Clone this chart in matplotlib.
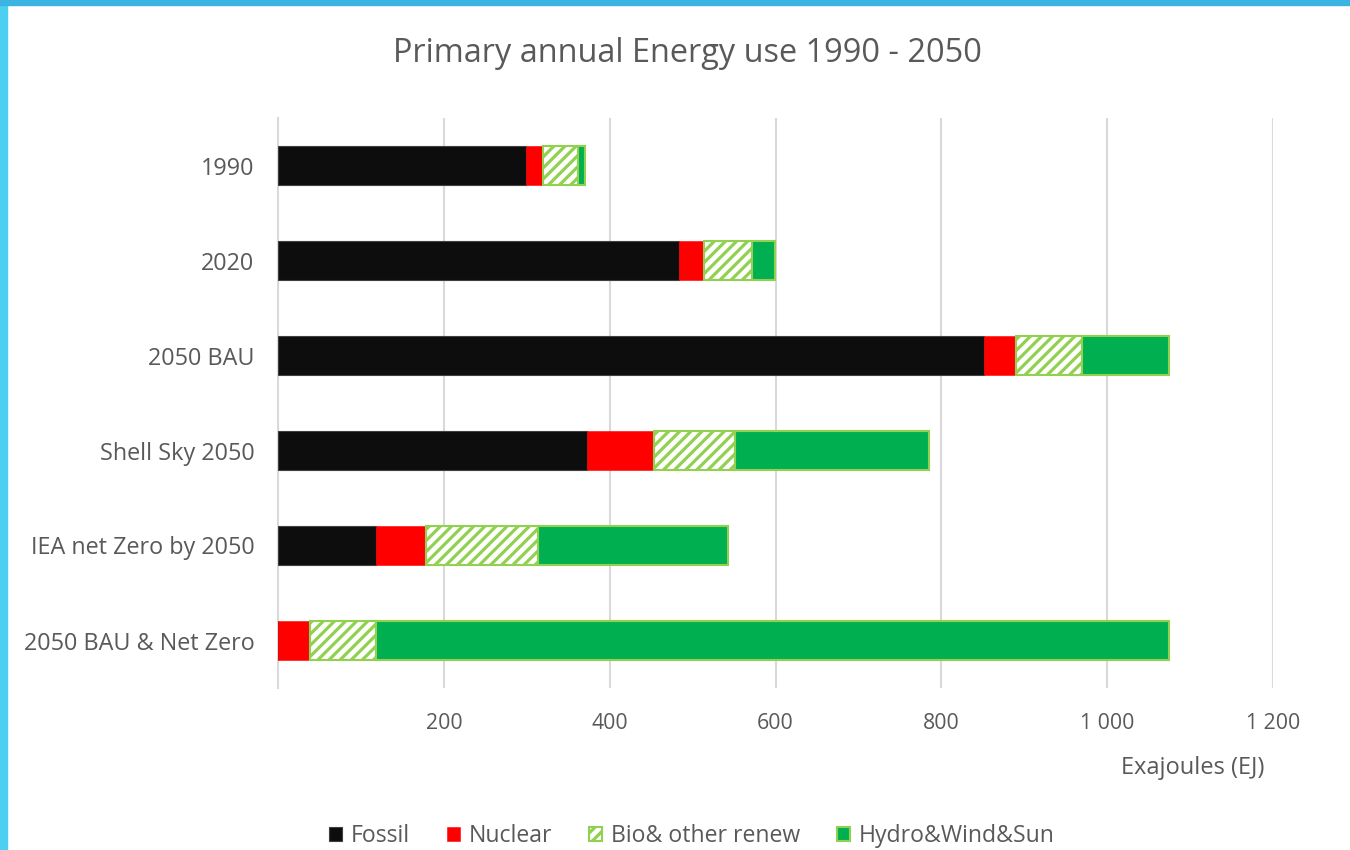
import matplotlib.pyplot as plt
from matplotlib.patches import Rectangle
from matplotlib.ticker import FuncFormatter
import numpy as np

# energy use per scenario, EJ
scenarios = ['1990', '2020', '2050 BAU', 'Shell Sky 2050', 'IEA net Zero by 2050', '2050 BAU & Net Zero']
fossil = [299, 484, 852, 373, 118, 0]
nuclear = [21, 30, 38, 80, 60, 38]
bio = [42, 58, 80, 98, 136, 80]
hydro = [8, 27, 105, 234, 229, 957]
series_names = ['Fossil', 'Nuclear', 'Bio& other renew', 'Hydro&Wind&Sun']

plt.rcParams['font.family'] = ['Open Sans', 'DejaVu Sans']
plt.rcParams['hatch.linewidth'] = 2.3
grey = '#595959'
light_green = '#92D050'

fig = plt.figure(figsize=(13.5, 8.5), dpi=100)
ax = fig.add_axes([278 / 1350, 1 - 688 / 850, (1273 - 278) / 1350, (688 - 118) / 850])

y = np.arange(len(scenarios))
h = 0.42
left = np.zeros(len(scenarios))
ax.barh(y, fossil, h, left=left, color='#0D0D0D', edgecolor='#404040', linewidth=0.8, label=series_names[0], zorder=3)
left += fossil
ax.barh(y, nuclear, h, left=left, color='#FF0000', edgecolor='#FF0000', linewidth=0.4, label=series_names[1], zorder=3)
left += nuclear
ax.barh(y, bio, h, left=left, color='white', edgecolor=light_green, hatch='///', linewidth=1.5, label=series_names[2], zorder=3)
left += bio
ax.barh(y, hydro, h, left=left, color='#00B050', edgecolor=light_green, linewidth=1.5, label=series_names[3], zorder=3)

ax.set_xlim(0, 1200)
ax.set_ylim(len(scenarios) - 0.5, -0.5)
ax.set_yticks(y)
ax.set_yticklabels(scenarios, fontsize=16.8)
ax.set_xticks([200, 400, 600, 800, 1000, 1200])
ax.xaxis.set_major_formatter(FuncFormatter(lambda v, p: f'{int(v):,}'.replace(',', ' ')))
ax.tick_params(axis='both', length=0, colors=grey)
ax.tick_params(axis='x', pad=18, labelsize=15.3)
ax.tick_params(axis='y', pad=17)
ax.grid(axis='x', color='#D9D9D9', linewidth=1.5, zorder=0)
for s in ['top', 'right', 'bottom']:
    ax.spines[s].set_visible(False)
ax.spines['left'].set_color('#D9D9D9')
ax.spines['left'].set_linewidth(1.5)

fig.text(687 / 1350, 1 - 54 / 850, 'Primary annual Energy use 1990 - 2050', ha='center', va='center',
         fontsize=23.4, color=grey)
fig.text(1193 / 1350, 1 - 768 / 850, 'Exajoules (EJ)', ha='center', va='center', fontsize=17, color=grey)

fig.legend(loc='center', bbox_to_anchor=(692 / 1350, 1 - 836 / 850), ncol=4, frameon=False, fontsize=16.6,
           labelcolor=grey, handlelength=0.55, handleheight=0.55, handletextpad=0.4, columnspacing=1.6)

# slide frame in blue along left and top edges
fig.patches.append(Rectangle((0, 0), 7 / 1350, 1, transform=fig.transFigure, color='#4CCFF0', zorder=10))
fig.patches.append(Rectangle((0, 1 - 5 / 850), 1, 5 / 850, transform=fig.transFigure, color='#3BB4E2', zorder=10))

fig.savefig('out.png', dpi=100, facecolor='white')
